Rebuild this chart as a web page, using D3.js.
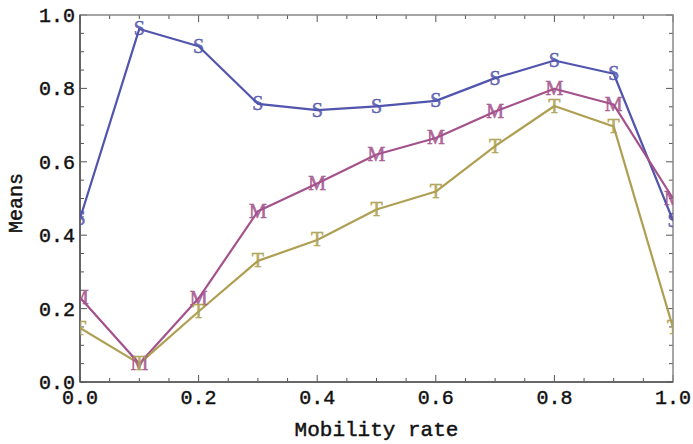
<!DOCTYPE html>
<html><head><meta charset="utf-8">
<script src="https://cdn.jsdelivr.net/npm/d3@7"></script>
<style>body{margin:0;background:#fff}svg{display:block}</style>
</head><body>
<script>
const xs = [0.0,0.1,0.2,0.3,0.4,0.5,0.6,0.7,0.8,0.9,1.0];
const sValues = [0.445,0.962,0.915,0.758,0.741,0.751,0.766,0.828,0.876,0.840,0.440];
const mValues = [0.230,0.050,0.228,0.465,0.541,0.620,0.665,0.737,0.799,0.756,0.500];
const tValues = [0.147,0.050,0.192,0.330,0.387,0.470,0.519,0.643,0.752,0.696,0.148];
const seriesNames = ["S","M","T"];
const colors = ["#5155ad","#a3528c","#ae9f52"];
const xTicks = [0,0.2,0.4,0.6,0.8,1.0];
const yTicks = [0,0.2,0.4,0.6,0.8,1.0];
const xLabel = "Mobility rate", yLabel = "Means";

const W=693,H=444, L=80,R=673,T=15,B=382;
const svg=d3.select("body").append("svg").attr("width",W).attr("height",H);
const x=d3.scaleLinear().domain([0,1]).range([L,R]);
const y=d3.scaleLinear().domain([0,1]).range([B,T]);
const mono="'Liberation Mono','Courier New',monospace";
const frameColor="#555";

svg.append("clipPath").attr("id","clip").append("rect")
  .attr("x",L).attr("y",T).attr("width",R-L).attr("height",B-T);

const minor=d3.range(0,1.0001,0.05);
function isMajor(v){return Math.abs(v*5-Math.round(v*5))<1e-6;}
const tg=svg.append("g").attr("stroke",frameColor).attr("stroke-width",1);
minor.forEach(v=>{
  const len=isMajor(v)?7:4;
  tg.append("line").attr("x1",x(v)).attr("x2",x(v)).attr("y1",B).attr("y2",B-len);
  tg.append("line").attr("x1",x(v)).attr("x2",x(v)).attr("y1",T).attr("y2",T+len);
  tg.append("line").attr("y1",y(v)).attr("y2",y(v)).attr("x1",L).attr("x2",L+len);
  tg.append("line").attr("y1",y(v)).attr("y2",y(v)).attr("x1",R).attr("x2",R-len);
});
svg.append("rect").attr("x",L).attr("y",T).attr("width",R-L).attr("height",B-T)
  .attr("fill","none").attr("stroke","#888").attr("stroke-width",1.5);
svg.append("line").attr("x1",L).attr("x2",L).attr("y1",T).attr("y2",B).attr("stroke",frameColor).attr("stroke-width",1.6);
svg.append("line").attr("x1",L).attr("x2",R).attr("y1",B).attr("y2",B).attr("stroke",frameColor).attr("stroke-width",1.6);

const fmt=d3.format(".1f");
const txt=sel=>sel.attr("font-family",mono).attr("fill","#111").attr("stroke","#111").attr("stroke-width",0.45);
svg.append("g").selectAll("text").data(xTicks).join("text")
  .attr("x",d=>x(d)).attr("y",404).attr("text-anchor","middle")
  .attr("font-size",20).call(txt).text(fmt);
svg.append("g").selectAll("text").data(yTicks).join("text")
  .attr("x",75).attr("y",d=>y(d)+7).attr("text-anchor","end")
  .attr("font-size",20).call(txt).text(fmt);
svg.append("text").attr("x",(L+R)/2).attr("y",436).attr("text-anchor","middle")
  .attr("font-size",21).call(txt).text(xLabel);
svg.append("text").attr("transform","translate(22,203) rotate(-90)").attr("text-anchor","middle")
  .attr("font-size",20).call(txt).text(yLabel);

const allSeries=[sValues,mValues,tValues];
const plot=svg.append("g").attr("clip-path","url(#clip)");
const line=d3.line().x((d,i)=>x(xs[i])).y(d=>y(d));
allSeries.forEach((vals,k)=>{
  plot.append("path").datum(vals).attr("d",line).attr("fill","none")
    .attr("stroke",colors[k]).attr("stroke-width",2.2).attr("stroke-linejoin","round");
});
allSeries.forEach((vals,k)=>{
  plot.append("g").selectAll("text").data(vals).join("text")
    .attr("x",(d,i)=>x(xs[i])).attr("y",d=>y(d)+6.5).attr("text-anchor","middle")
    .attr("font-family","'Liberation Serif','Times New Roman',serif").attr("font-size",20)
    .attr("fill",colors[k]).attr("fill-opacity",0.85).attr("stroke",colors[k]).attr("stroke-width",0.5)
    .text(seriesNames[k]);
});
</script>
</body></html>
